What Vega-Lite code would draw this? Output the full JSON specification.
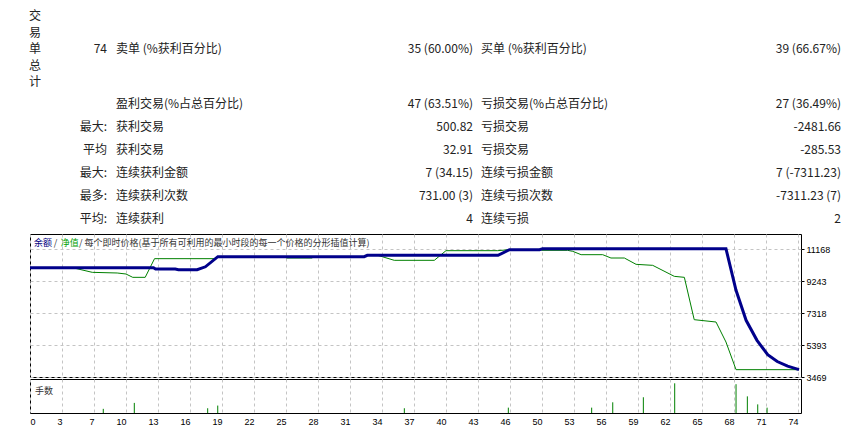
{
  "$schema": "https://vega.github.io/schema/vega-lite/v6.json",
  "background": "white",
  "padding": {"left": 23, "top": 0, "right": 0, "bottom": 0},
  "spacing": 2,
  "bounds": "flush",
  "config": {
    "font": "Noto Sans CJK SC",
    "view": {"stroke": "#000000", "strokeWidth": 1},
    "axis": {
      "title": null,
      "domain": false,
      "grid": true,
      "gridColor": "#c4c4c4",
      "gridDash": [3, 3],
      "labelFont": "Liberation Sans",
      "labelFontSize": 9,
      "labelColor": "#000000"
    }
  },
  "datasets": {
    "table": [
      {"r": 1, "c": 0, "text": "交\n易\n单\n总\n计"},
      {"r": 1, "c": 1, "text": "74"},
      {"r": 1, "c": 2, "text": "卖单 (%获利百分比)"},
      {"r": 1, "c": 3, "text": "35 (60.00%)"},
      {"r": 1, "c": 4, "text": "买单 (%获利百分比)"},
      {"r": 1, "c": 5, "text": "39 (66.67%)"},
      {"r": 2, "c": 2, "text": "盈利交易(%占总百分比)"},
      {"r": 2, "c": 3, "text": "47 (63.51%)"},
      {"r": 2, "c": 4, "text": "亏损交易(%占总百分比)"},
      {"r": 2, "c": 5, "text": "27 (36.49%)"},
      {"r": 3, "c": 1, "text": "最大:"},
      {"r": 3, "c": 2, "text": "获利交易"},
      {"r": 3, "c": 3, "text": "500.82"},
      {"r": 3, "c": 4, "text": "亏损交易"},
      {"r": 3, "c": 5, "text": "-2481.66"},
      {"r": 4, "c": 1, "text": "平均"},
      {"r": 4, "c": 2, "text": "获利交易"},
      {"r": 4, "c": 3, "text": "32.91"},
      {"r": 4, "c": 4, "text": "亏损交易"},
      {"r": 4, "c": 5, "text": "-285.53"},
      {"r": 5, "c": 1, "text": "最大:"},
      {"r": 5, "c": 2, "text": "连续获利金额"},
      {"r": 5, "c": 3, "text": "7 (34.15)"},
      {"r": 5, "c": 4, "text": "连续亏损金额"},
      {"r": 5, "c": 5, "text": "7 (-7311.23)"},
      {"r": 6, "c": 1, "text": "最多:"},
      {"r": 6, "c": 2, "text": "连续获利次数"},
      {"r": 6, "c": 3, "text": "731.00 (3)"},
      {"r": 6, "c": 4, "text": "连续亏损次数"},
      {"r": 6, "c": 5, "text": "-7311.23 (7)"},
      {"r": 7, "c": 1, "text": "平均:"},
      {"r": 7, "c": 2, "text": "连续获利"},
      {"r": 7, "c": 3, "text": "4"},
      {"r": 7, "c": 4, "text": "连续亏损"},
      {"r": 7, "c": 5, "text": "2"}
    ],
    "balance": [
      {"t": 0, "v": 10046}, {"t": 11.9, "v": 10046}, {"t": 12.1, "v": 9967},
      {"t": 14.0, "v": 9967}, {"t": 14.3, "v": 9925}, {"t": 16.1, "v": 9925},
      {"t": 16.9, "v": 10100}, {"t": 18.1, "v": 10709}, {"t": 32.2, "v": 10709},
      {"t": 32.5, "v": 10790}, {"t": 45.1, "v": 10790}, {"t": 46.2, "v": 11130},
      {"t": 49.1, "v": 11130}, {"t": 49.4, "v": 11190}, {"t": 67.06, "v": 11190},
      {"t": 68.03, "v": 8684}, {"t": 69.0, "v": 6878}, {"t": 70.05, "v": 5675},
      {"t": 71.08, "v": 4813}, {"t": 72.0, "v": 4400}, {"t": 73.0, "v": 4120},
      {"t": 74.1, "v": 3910}
    ],
    "equity": [
      {"t": 0, "v": 10046}, {"t": 4.1, "v": 10046}, {"t": 6.0, "v": 9766},
      {"t": 8.4, "v": 9727}, {"t": 9.25, "v": 9666}, {"t": 9.9, "v": 9466},
      {"t": 11.1, "v": 9466}, {"t": 12.0, "v": 10589}, {"t": 17.8, "v": 10589},
      {"t": 18.1, "v": 10709}, {"t": 24.6, "v": 10709}, {"t": 24.7, "v": 10629},
      {"t": 27.2, "v": 10629}, {"t": 27.3, "v": 10709}, {"t": 32.2, "v": 10709},
      {"t": 32.5, "v": 10790}, {"t": 33.5, "v": 10790}, {"t": 35.1, "v": 10489},
      {"t": 38.96, "v": 10489}, {"t": 40.08, "v": 11069}, {"t": 45.07, "v": 11069},
      {"t": 46.19, "v": 11130}, {"t": 49.2, "v": 11130}, {"t": 49.3, "v": 11090},
      {"t": 51.8, "v": 11090}, {"t": 52.3, "v": 11030}, {"t": 53.1, "v": 10829},
      {"t": 55.18, "v": 10829}, {"t": 55.98, "v": 10629}, {"t": 57.27, "v": 10629},
      {"t": 58.4, "v": 10248}, {"t": 60.0, "v": 10188}, {"t": 62.08, "v": 9526},
      {"t": 63.05, "v": 9466}, {"t": 64.0, "v": 6918}, {"t": 66.1, "v": 6778},
      {"t": 67.06, "v": 5575}, {"t": 68.03, "v": 3910}, {"t": 74.1, "v": 3910}
    ],
    "lots": [
      {"t": 7.06, "lots": 0.14}, {"t": 10.05, "lots": 0.34}, {"t": 17.12, "lots": 0.16},
      {"t": 18.09, "lots": 0.25}, {"t": 36.07, "lots": 0.16}, {"t": 46.09, "lots": 0.18},
      {"t": 54.12, "lots": 0.18}, {"t": 56.15, "lots": 0.36}, {"t": 59.1, "lots": 0.53},
      {"t": 62.12, "lots": 1.0}, {"t": 68.03, "lots": 0.97}, {"t": 69.12, "lots": 0.56},
      {"t": 70.12, "lots": 0.29}, {"t": 71.02, "lots": 0.18}
    ]
  },
  "vconcat": [
    {
      "width": 771,
      "height": 232,
      "view": {"stroke": null},
      "data": {"name": "table"},
      "encoding": {
        "x": {"field": "c", "type": "quantitative", "axis": null,
              "scale": {"domain": [0, 1, 2, 3, 4, 5], "range": [5, 77, 86, 443, 451, 811]}},
        "y": {"field": "r", "type": "quantitative", "axis": null,
              "scale": {"domain": [1, 2, 3, 4, 5, 6, 7], "range": [49, 104, 127, 150, 173, 196, 218.5]}},
        "text": {"field": "text"}
      },
      "layer": [
        {
          "transform": [{"filter": "datum.c == 0"}],
          "mark": {"type": "text", "align": "center", "baseline": "middle", "lineBreak": "\n",
                   "lineHeight": 16.5, "dy": -33, "fontSize": 12, "color": "#222222"}
        },
        {
          "transform": [{"filter": "datum.c == 1 || datum.c == 3 || datum.c == 5"}],
          "mark": {"type": "text", "align": "right", "baseline": "middle", "fontSize": 12, "color": "#222222"}
        },
        {
          "transform": [{"filter": "datum.c == 2 || datum.c == 4"}],
          "mark": {"type": "text", "align": "left", "baseline": "middle", "fontSize": 12, "color": "#222222"}
        }
      ]
    },
    {
      "width": 771,
      "height": 143,
      "encoding": {
        "x": {"type": "quantitative",
              "scale": {"domain": [0, 74.29], "nice": false, "zero": false},
              "axis": {"values": [0, 3.0833, 6.1667, 9.25, 12.3333, 15.4167, 18.5, 21.5833, 24.6667, 27.75, 30.8333, 33.9167, 37, 40.0833, 43.1667, 46.25, 49.3333, 52.4167, 55.5, 58.5833, 61.6667, 64.75, 67.8333, 70.9167, 74],
                       "labels": false, "ticks": false}},
        "y": {"type": "quantitative",
              "scale": {"domain": [3469, 12073], "nice": false, "zero": false},
              "axis": {"orient": "right", "values": [3469, 5393, 7318, 9243, 11168], "format": "d",
                       "tickSize": 3, "tickColor": "#000000", "labelPadding": 2, "labelFlush": false,
                       "labelOverlap": false, "labelBaseline": "middle"}}
      },
      "layer": [
        {
          "data": {"name": "equity"},
          "mark": {"type": "line", "color": "#008000", "strokeWidth": 1},
          "encoding": {"x": {"field": "t"}, "y": {"field": "v"}}
        },
        {
          "data": {"name": "balance"},
          "mark": {"type": "line", "color": "#00008B", "strokeWidth": 3},
          "encoding": {"x": {"field": "t"}, "y": {"field": "v"}}
        },
        {
          "data": {"values": [{}]},
          "mark": {"type": "text", "align": "left", "baseline": "middle", "fontSize": 9, "color": "#000080"},
          "encoding": {"x": {"datum": 0.39}, "y": {"datum": 11531}, "text": {"value": "余额"}}
        },
        {
          "data": {"values": [{}]},
          "mark": {"type": "text", "align": "left", "baseline": "middle", "fontSize": 9, "color": "#333333"},
          "encoding": {"x": {"datum": 2.3}, "y": {"datum": 11531}, "text": {"value": "/"}}
        },
        {
          "data": {"values": [{}]},
          "mark": {"type": "text", "align": "left", "baseline": "middle", "fontSize": 9, "color": "#00a000"},
          "encoding": {"x": {"datum": 2.96}, "y": {"datum": 11531}, "text": {"value": "净值"}}
        },
        {
          "data": {"values": [{}]},
          "mark": {"type": "text", "align": "left", "baseline": "middle", "fontSize": 9, "color": "#333333"},
          "encoding": {"x": {"datum": 4.72}, "y": {"datum": 11531},
                       "text": {"value": "/  每个即时价格(基于所有可利用的最小时段的每一个价格的分形插值计算)"}}
        }
      ]
    },
    {
      "width": 771,
      "height": 34,
      "encoding": {
        "x": {"type": "quantitative",
              "scale": {"domain": [0, 74.29], "nice": false, "zero": false},
              "axis": {"values": [0, 3.0833, 6.1667, 9.25, 12.3333, 15.4167, 18.5, 21.5833, 24.6667, 27.75, 30.8333, 33.9167, 37, 40.0833, 43.1667, 46.25, 49.3333, 52.4167, 55.5, 58.5833, 61.6667, 64.75, 67.8333, 70.9167, 74],
                       "labelExpr": "['0','3','7','10','13','16','19','22','25','28','31','34','37','40','43','46','50','53','56','59','62','65','68','71','74'][round(datum.value * 24 / 74)]",
                       "labelAlign": {"condition": {"test": "datum.value == 0", "value": "left"}, "value": "right"},
                       "labelFlush": false, "labelOverlap": false, "ticks": false, "labelPadding": 4,
                       "labelBaseline": "top", "labelFontSize": 9}},
        "y": {"type": "quantitative", "scale": {"domain": [0, 1.145], "nice": false, "zero": true}, "axis": null}
      },
      "layer": [
        {
          "data": {"name": "lots"},
          "mark": {"type": "rule", "color": "#008000", "strokeWidth": 1},
          "encoding": {"x": {"field": "t"}, "y": {"field": "lots"}, "y2": {"datum": 0}}
        },
        {
          "data": {"values": [{}]},
          "mark": {"type": "text", "align": "left", "baseline": "middle", "fontSize": 9, "color": "#333333"},
          "encoding": {"x": {"datum": 0.48}, "y": {"datum": 0.74}, "text": {"value": "手数"}}
        }
      ]
    }
  ]
}
